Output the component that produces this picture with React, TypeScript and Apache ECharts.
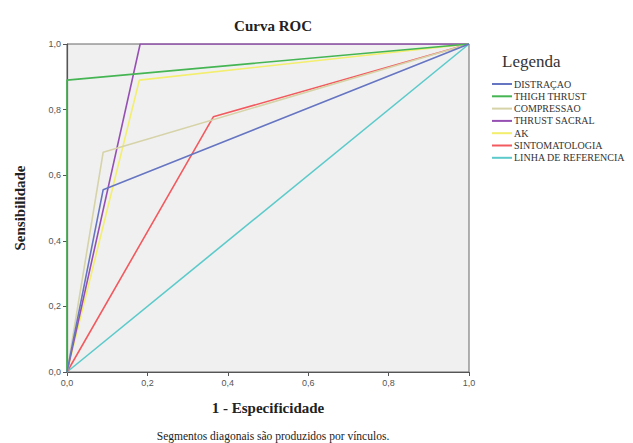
import React, { useEffect, useRef } from "react";
import * as echarts from "echarts";

const seriesNames = [
  "DISTRAÇAO",
  "THIGH THRUST",
  "COMPRESSAO",
  "THRUST SACRAL",
  "AK",
  "SINTOMATOLOGIA",
  "LINHA DE REFERENCIA",
];
const seriesColors = ["#6675c2", "#45b553", "#d6d3a8", "#9650b3", "#f3ee6c", "#f25a5f", "#5ccaca"];
const distracao: number[][] = [[0, 0], [0.09, 0.556], [1, 1]];
const thighThrust: number[][] = [[0, 0], [0, 0.89], [1, 1]];
const compressao: number[][] = [[0, 0], [0.09, 0.67], [1, 1]];
const thrustSacral: number[][] = [[0, 0], [0.182, 1], [1, 1]];
const ak: number[][] = [[0, 0], [0.18, 0.89], [1, 1]];
const sintomatologia: number[][] = [[0, 0], [0.364, 0.778], [1, 1]];
const referencia: number[][] = [[0, 0], [1, 1]];
const allData = [distracao, thighThrust, compressao, thrustSacral, ak, sintomatologia, referencia];

const fmt = (v: number) => v.toFixed(1).replace(".", ",");

export default function App() {
  const ref = useRef<HTMLDivElement>(null);
  useEffect(() => {
    if (!ref.current) return;
    const chart = echarts.init(ref.current, undefined, { renderer: "svg" });
    const serif = "'Liberation Serif', 'Times New Roman', serif";
    const sans = "Liberation Sans";
    chart.setOption({
      animation: false,
      backgroundColor: "#ffffff",
      title: [
        {
          text: "Curva ROC",
          left: 268,
          top: 13,
          textAlign: "center",
          textStyle: { fontFamily: serif, fontSize: 15, fontWeight: "bold", color: "#222" },
        },
        {
          text: "Legenda",
          left: 497,
          top: 48,
          textStyle: { fontFamily: serif, fontSize: 17, fontWeight: 400, color: "#333" },
        },
        {
          text: "Segmentos diagonais são produzidos por vínculos.",
          left: 268,
          top: 425,
          textAlign: "center",
          textStyle: { fontFamily: serif, fontSize: 11.5, fontWeight: 400, color: "#222" },
        },
      ],
      legend: {
        orient: "vertical",
        left: 487,
        top: 74,
        itemWidth: 20,
        itemHeight: 2,
        itemGap: 2.3,
        icon: "rect",
        data: seriesNames,
        textStyle: { fontFamily: serif, fontSize: 10, color: "#333", padding: [0, 0, 0, -3] },
      },
      grid: {
        left: 67,
        right: 164,
        top: 44,
        bottom: 71,
        show: true,
        backgroundColor: "#f0f0f0",
        borderColor: "#666",
        borderWidth: 1,
      },
      xAxis: {
        type: "value",
        min: 0,
        max: 1,
        interval: 0.2,
        name: "1 - Especificidade",
        nameLocation: "middle",
        nameGap: 28,
        nameTextStyle: { fontFamily: serif, fontSize: 15, fontWeight: "bold", color: "#222" },
        axisLine: { show: true, lineStyle: { color: "#555", width: 1.2 } },
        axisTick: { show: true, length: 4, lineStyle: { color: "#555" } },
        axisLabel: { formatter: fmt, fontFamily: sans, fontSize: 9, color: "#555", margin: 6 },
        splitLine: { show: false },
      },
      yAxis: {
        type: "value",
        min: 0,
        max: 1,
        interval: 0.2,
        name: "Sensibilidade",
        nameLocation: "middle",
        nameGap: 40,
        nameTextStyle: { fontFamily: serif, fontSize: 15, fontWeight: "bold", color: "#222" },
        axisLine: { show: true, lineStyle: { color: "#555", width: 1.2 } },
        axisTick: { show: true, length: 4, lineStyle: { color: "#555" } },
        axisLabel: { formatter: fmt, fontFamily: sans, fontSize: 9, color: "#555", margin: 6 },
        splitLine: { show: false },
      },
      series: seriesNames.map((name, i) => ({
        name,
        type: "line",
        data: allData[i],
        showSymbol: false,
        symbol: "none",
        color: seriesColors[i],
        lineStyle: { color: seriesColors[i], width: 1.6 },
        z: 10 - i,
      })),
    });
    return () => chart.dispose();
  }, []);
  return <div ref={ref} style={{ width: 633, height: 443, position: "absolute", left: 0, top: 0 }} />;
}
